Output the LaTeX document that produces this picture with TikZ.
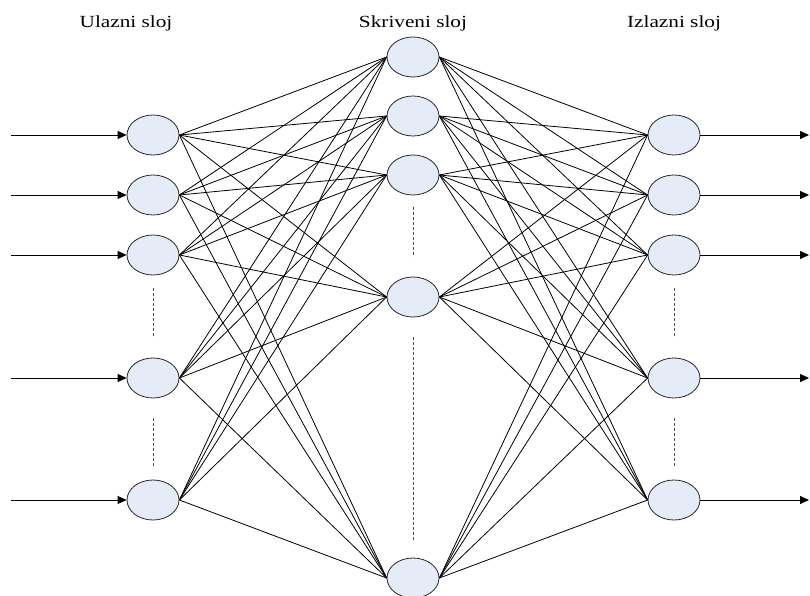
\documentclass[tikz,border=0pt]{standalone}
\usepackage{fontspec}
\setmainfont{Liberation Serif}
\usepackage{graphicx}
\usetikzlibrary{arrows.meta, shapes.geometric}
\definecolor{NeuronFill}{RGB}{230,236,247}
\definecolor{NeuronLine}{RGB}{40,40,40}
\definecolor{GapGray}{RGB}{80,80,80}
\tikzset{
  neuron/.style={ellipse, draw=NeuronLine, fill=NeuronFill, line width=0.8pt,
    minimum width=52pt, minimum height=40pt, inner sep=0pt},
  link/.style={line width=0.8pt},
  signal/.style={line width=0.8pt, -{Triangle[length=9pt,width=8pt]}},
  gap/.style={dash pattern=on 3pt off 2pt, line width=0.7pt, GapGray},
  layername/.style={anchor=base, font=\fontsize{17}{19}\selectfont}
}

\begin{document}
\begin{tikzpicture}[x=1pt, y=-1pt]
  \clip (0,0) rectangle (810,596);
  % layer titles
  \node[layername] (tin) at (126,28) {\scalebox{1.25}[1]{Ulazni sloj}};
  \node[layername] (thid) at (413,28) {\scalebox{1.25}[1]{Skriveni sloj}};
  \node[layername] (tout) at (674,28) {\scalebox{1.25}[1]{Izlazni sloj}};

  % input layer
  \foreach \n/\y in {1/135,2/195,3/255,4/378,5/500} {
    \node[neuron] (in\n) at (153,\y) {};
    \coordinate (src\n) at (11,\y);
    \draw[signal] (src\n) -- (in\n.west);
  }
  \draw[gap] (153,288) -- (153,338);
  \draw[gap] (153,418) -- (153,468);

  % hidden layer
  \foreach \n/\y in {1/57,2/116,3/175,4/297,5/578} {
    \node[neuron] (hid\n) at (413,\y) {};
  }
  \draw[gap] (413,207) -- (413,257);
  \draw[gap] (413,337) -- (413,540);

  % output layer
  \foreach \n/\y in {1/135,2/195,3/255,4/378,5/500} {
    \node[neuron] (out\n) at (674,\y) {};
    \coordinate (dst\n) at (809,\y);
    \draw[signal] (out\n.east) -- (dst\n);
  }
  \draw[gap] (674,288) -- (674,338);
  \draw[gap] (674,418) -- (674,468);

  % full connections
  \foreach \i in {1,...,5} {
    \foreach \j in {1,...,5} {
      \draw[link] (in\i.east) -- (hid\j.west);
      \draw[link] (hid\i.east) -- (out\j.west);
    }
  }
\end{tikzpicture}
\end{document}
